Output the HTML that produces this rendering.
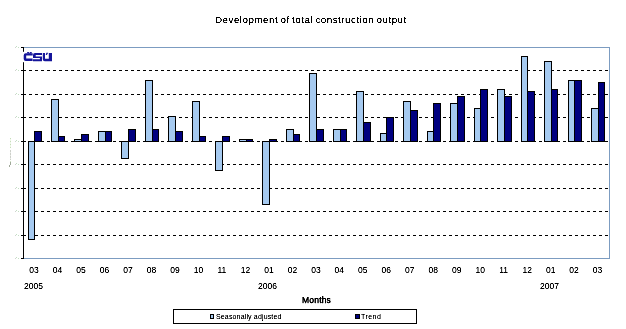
<!DOCTYPE html>
<html><head><meta charset="utf-8"><style>
html,body{margin:0;padding:0;background:#fff;}
body{width:626px;height:329px;position:relative;overflow:hidden;font-family:"Liberation Sans",sans-serif;color:#000;}
#c div{position:absolute;box-sizing:border-box;}
.t{position:absolute;white-space:nowrap;line-height:1;filter:url(#sh2);}
.xl{position:absolute;top:265px;width:20px;text-align:center;font-size:8.5px;line-height:10px;filter:url(#sh2);}
</style></head><body>
<svg width="0" height="0" style="position:absolute"><filter id="sh2" x="-10%" y="-20%" width="120%" height="140%"><feComponentTransfer><feFuncA type="linear" slope="1.5" intercept="-0.1"/></feComponentTransfer></filter><filter id="sh" x="-10%" y="-20%" width="120%" height="140%"><feComponentTransfer><feFuncA type="linear" slope="2" intercept="-0.2"/></feComponentTransfer></filter><filter id="th" x="-10%" y="-20%" width="120%" height="140%"><feComponentTransfer><feFuncA type="discrete" tableValues="0 0 0 1 1 1 1 1 1 1"/></feComponentTransfer></filter><filter id="th2" x="-10%" y="-20%" width="120%" height="140%"><feComponentTransfer><feFuncA type="linear" slope="4" intercept="-1.1"/></feComponentTransfer></filter></svg>
<div class="t" style="left:215px;top:15px;font-size:9.8px;letter-spacing:0.5px;word-spacing:-0.9px;filter:url(#th2)">Development of total construction output</div>
<div id="c">
<div style="left:23px;top:70px;width:586px;height:1px;background:repeating-linear-gradient(to right,#000 0 3px,transparent 3px 6px)"></div><div style="left:23px;top:94px;width:586px;height:1px;background:repeating-linear-gradient(to right,#000 0 3px,transparent 3px 6px)"></div><div style="left:23px;top:117px;width:586px;height:1px;background:repeating-linear-gradient(to right,#000 0 3px,transparent 3px 6px)"></div><div style="left:23px;top:141px;width:586px;height:1px;background:repeating-linear-gradient(to right,#000 0 3px,transparent 3px 6px)"></div><div style="left:23px;top:164px;width:586px;height:1px;background:repeating-linear-gradient(to right,#000 0 3px,transparent 3px 6px)"></div><div style="left:23px;top:188px;width:586px;height:1px;background:repeating-linear-gradient(to right,#000 0 3px,transparent 3px 6px)"></div><div style="left:23px;top:211px;width:586px;height:1px;background:repeating-linear-gradient(to right,#000 0 3px,transparent 3px 6px)"></div><div style="left:23px;top:235px;width:586px;height:1px;background:repeating-linear-gradient(to right,#000 0 3px,transparent 3px 6px)"></div><div style="left:23px;top:47px;width:587px;height:1px;background:#7c9cc1"></div><div style="left:23px;top:258px;width:587px;height:1px;background:#7c9cc1"></div><div style="left:609px;top:47px;width:1px;height:212px;background:#7c9cc1"></div><div style="left:28px;top:141px;width:7px;height:99px;background:#a6caf0;border:1px solid #000"></div><div style="left:34px;top:131px;width:8px;height:11px;background:#000080;border:1px solid #000"></div><div style="left:51px;top:99px;width:8px;height:43px;background:#a6caf0;border:1px solid #000"></div><div style="left:58px;top:136px;width:7px;height:6px;background:#000080;border:1px solid #000"></div><div style="left:74px;top:139px;width:8px;height:3px;background:#a6caf0;border:1px solid #000"></div><div style="left:81px;top:134px;width:8px;height:8px;background:#000080;border:1px solid #000"></div><div style="left:98px;top:131px;width:8px;height:11px;background:#a6caf0;border:1px solid #000"></div><div style="left:105px;top:131px;width:7px;height:11px;background:#000080;border:1px solid #000"></div><div style="left:121px;top:141px;width:8px;height:18px;background:#a6caf0;border:1px solid #000"></div><div style="left:128px;top:129px;width:8px;height:13px;background:#000080;border:1px solid #000"></div><div style="left:145px;top:80px;width:8px;height:62px;background:#a6caf0;border:1px solid #000"></div><div style="left:152px;top:129px;width:7px;height:13px;background:#000080;border:1px solid #000"></div><div style="left:168px;top:116px;width:8px;height:26px;background:#a6caf0;border:1px solid #000"></div><div style="left:175px;top:131px;width:8px;height:11px;background:#000080;border:1px solid #000"></div><div style="left:192px;top:101px;width:8px;height:41px;background:#a6caf0;border:1px solid #000"></div><div style="left:199px;top:136px;width:7px;height:6px;background:#000080;border:1px solid #000"></div><div style="left:215px;top:141px;width:8px;height:30px;background:#a6caf0;border:1px solid #000"></div><div style="left:222px;top:136px;width:8px;height:6px;background:#000080;border:1px solid #000"></div><div style="left:239px;top:139px;width:8px;height:3px;background:#a6caf0;border:1px solid #000"></div><div style="left:246px;top:139px;width:7px;height:3px;background:#000080;border:1px solid #000"></div><div style="left:262px;top:141px;width:8px;height:64px;background:#a6caf0;border:1px solid #000"></div><div style="left:269px;top:139px;width:8px;height:3px;background:#000080;border:1px solid #000"></div><div style="left:286px;top:129px;width:8px;height:13px;background:#a6caf0;border:1px solid #000"></div><div style="left:293px;top:134px;width:7px;height:8px;background:#000080;border:1px solid #000"></div><div style="left:309px;top:73px;width:8px;height:69px;background:#a6caf0;border:1px solid #000"></div><div style="left:316px;top:129px;width:8px;height:13px;background:#000080;border:1px solid #000"></div><div style="left:333px;top:129px;width:8px;height:13px;background:#a6caf0;border:1px solid #000"></div><div style="left:340px;top:129px;width:7px;height:13px;background:#000080;border:1px solid #000"></div><div style="left:356px;top:91px;width:8px;height:51px;background:#a6caf0;border:1px solid #000"></div><div style="left:363px;top:122px;width:8px;height:20px;background:#000080;border:1px solid #000"></div><div style="left:380px;top:133px;width:7px;height:9px;background:#a6caf0;border:1px solid #000"></div><div style="left:386px;top:117px;width:8px;height:25px;background:#000080;border:1px solid #000"></div><div style="left:403px;top:101px;width:8px;height:41px;background:#a6caf0;border:1px solid #000"></div><div style="left:410px;top:110px;width:8px;height:32px;background:#000080;border:1px solid #000"></div><div style="left:427px;top:131px;width:7px;height:11px;background:#a6caf0;border:1px solid #000"></div><div style="left:433px;top:103px;width:8px;height:39px;background:#000080;border:1px solid #000"></div><div style="left:450px;top:103px;width:8px;height:39px;background:#a6caf0;border:1px solid #000"></div><div style="left:457px;top:96px;width:8px;height:46px;background:#000080;border:1px solid #000"></div><div style="left:474px;top:108px;width:7px;height:34px;background:#a6caf0;border:1px solid #000"></div><div style="left:480px;top:89px;width:8px;height:53px;background:#000080;border:1px solid #000"></div><div style="left:497px;top:89px;width:8px;height:53px;background:#a6caf0;border:1px solid #000"></div><div style="left:504px;top:96px;width:8px;height:46px;background:#000080;border:1px solid #000"></div><div style="left:521px;top:56px;width:7px;height:86px;background:#a6caf0;border:1px solid #000"></div><div style="left:527px;top:91px;width:8px;height:51px;background:#000080;border:1px solid #000"></div><div style="left:544px;top:61px;width:8px;height:81px;background:#a6caf0;border:1px solid #000"></div><div style="left:551px;top:89px;width:7px;height:53px;background:#000080;border:1px solid #000"></div><div style="left:568px;top:80px;width:7px;height:62px;background:#a6caf0;border:1px solid #000"></div><div style="left:574px;top:80px;width:8px;height:62px;background:#000080;border:1px solid #000"></div><div style="left:591px;top:108px;width:8px;height:34px;background:#a6caf0;border:1px solid #000"></div><div style="left:598px;top:82px;width:7px;height:60px;background:#000080;border:1px solid #000"></div><div style="left:23px;top:47px;width:1px;height:212px;background:#000"></div><div style="left:21px;top:47px;width:3px;height:1px;background:#000"></div><div style="left:15px;top:47px;width:1px;height:1px;background:#cfd3cf"></div><div style="left:16px;top:46px;width:1px;height:1px;background:#c2e0c2"></div><div style="left:18px;top:47px;width:1px;height:1px;background:#c2e0c2"></div><div style="left:21px;top:70px;width:5px;height:1px;background:#000"></div><div style="left:15px;top:70px;width:1px;height:1px;background:#cfd3cf"></div><div style="left:16px;top:69px;width:1px;height:1px;background:#c2e0c2"></div><div style="left:18px;top:70px;width:1px;height:1px;background:#c2e0c2"></div><div style="left:21px;top:94px;width:5px;height:1px;background:#000"></div><div style="left:15px;top:94px;width:1px;height:1px;background:#cfd3cf"></div><div style="left:16px;top:93px;width:1px;height:1px;background:#c2e0c2"></div><div style="left:18px;top:94px;width:1px;height:1px;background:#c2e0c2"></div><div style="left:21px;top:117px;width:5px;height:1px;background:#000"></div><div style="left:15px;top:117px;width:1px;height:1px;background:#cfd3cf"></div><div style="left:16px;top:116px;width:1px;height:1px;background:#c2e0c2"></div><div style="left:18px;top:117px;width:1px;height:1px;background:#c2e0c2"></div><div style="left:21px;top:141px;width:5px;height:1px;background:#000"></div><div style="left:15px;top:141px;width:1px;height:1px;background:#cfd3cf"></div><div style="left:16px;top:140px;width:1px;height:1px;background:#c2e0c2"></div><div style="left:18px;top:141px;width:1px;height:1px;background:#c2e0c2"></div><div style="left:21px;top:164px;width:5px;height:1px;background:#000"></div><div style="left:15px;top:164px;width:1px;height:1px;background:#cfd3cf"></div><div style="left:16px;top:163px;width:1px;height:1px;background:#c2e0c2"></div><div style="left:18px;top:164px;width:1px;height:1px;background:#c2e0c2"></div><div style="left:21px;top:188px;width:5px;height:1px;background:#000"></div><div style="left:15px;top:188px;width:1px;height:1px;background:#cfd3cf"></div><div style="left:16px;top:187px;width:1px;height:1px;background:#c2e0c2"></div><div style="left:18px;top:188px;width:1px;height:1px;background:#c2e0c2"></div><div style="left:21px;top:211px;width:5px;height:1px;background:#000"></div><div style="left:15px;top:211px;width:1px;height:1px;background:#cfd3cf"></div><div style="left:16px;top:210px;width:1px;height:1px;background:#c2e0c2"></div><div style="left:18px;top:211px;width:1px;height:1px;background:#c2e0c2"></div><div style="left:21px;top:235px;width:5px;height:1px;background:#000"></div><div style="left:15px;top:235px;width:1px;height:1px;background:#cfd3cf"></div><div style="left:16px;top:234px;width:1px;height:1px;background:#c2e0c2"></div><div style="left:18px;top:235px;width:1px;height:1px;background:#c2e0c2"></div><div style="left:21px;top:258px;width:3px;height:1px;background:#000"></div><div style="left:15px;top:258px;width:1px;height:1px;background:#cfd3cf"></div><div style="left:16px;top:257px;width:1px;height:1px;background:#c2e0c2"></div><div style="left:18px;top:258px;width:1px;height:1px;background:#c2e0c2"></div>
</div>
<svg style="position:absolute;left:22px;top:51px" width="32" height="12" viewBox="22 51 32 12">
<rect x="22.6" y="51.8" width="30" height="10.4" fill="#fff"/>
<g fill="#15159a">
<path d="M25.7 53.2H32.7V55.5H26.2V58.6H32.6V61.1H25.7Q23.7 61.1 23.7 59.1V55.2Q23.7 53.2 25.7 53.2Z"/>
<path d="M26.9 52.1H28.7L29.5 52.9L30.2 52.1H32L31.2 53.6H27.7Z"/>
<path d="M35 53H42V55H35.7V56.5H42V61.3H33V59.2H39.9V58H33V55Q33 53 35 53Z"/>
<path d="M42.8 53H45V58.8H48.8V53H52V61.3H44.8Q42.8 61.3 42.8 59.3Z"/>
<path d="M46.4 52.8H48.2L46.9 55H45.7Z"/>
</g>
</svg>
<span class="xl" style="left:24.1px">03</span><span class="xl" style="left:47.6px">04</span><span class="xl" style="left:71.1px">05</span><span class="xl" style="left:94.5px">06</span><span class="xl" style="left:118.0px">07</span><span class="xl" style="left:141.5px">08</span><span class="xl" style="left:165.0px">09</span><span class="xl" style="left:188.5px">10</span><span class="xl" style="left:211.9px">11</span><span class="xl" style="left:235.4px">12</span><span class="xl" style="left:258.9px">01</span><span class="xl" style="left:282.4px">02</span><span class="xl" style="left:305.9px">03</span><span class="xl" style="left:329.3px">04</span><span class="xl" style="left:352.8px">05</span><span class="xl" style="left:376.3px">06</span><span class="xl" style="left:399.8px">07</span><span class="xl" style="left:423.3px">08</span><span class="xl" style="left:446.7px">09</span><span class="xl" style="left:470.2px">10</span><span class="xl" style="left:493.7px">11</span><span class="xl" style="left:517.2px">12</span><span class="xl" style="left:540.7px">01</span><span class="xl" style="left:564.1px">02</span><span class="xl" style="left:587.6px">03</span>
<div class="t" style="left:24px;top:282px;font-size:8.5px">2005</div>
<div class="t" style="left:258px;top:282px;font-size:8.5px">2006</div>
<div class="t" style="left:540px;top:282px;font-size:8.5px">2007</div>
<div class="t" style="left:302px;top:296px;font-size:8.5px;letter-spacing:0.2px;-webkit-text-stroke:0.25px #000">Months</div>
<div style="position:absolute;left:173px;top:309px;width:244px;height:15px;box-sizing:border-box;border:1px solid #000"></div>
<div style="position:absolute;left:210px;top:314px;width:4px;height:5px;box-sizing:border-box;border:1px solid #000;background:#a6caf0"></div>
<div class="t" style="left:216px;top:313px;font-size:7px;letter-spacing:0.15px;filter:url(#sh2)">Seasonally adjusted</div>
<div style="position:absolute;left:355px;top:314px;width:5px;height:5px;box-sizing:border-box;border:1px solid #000;background:#000080"></div>
<div class="t" style="left:361px;top:313px;font-size:7px;letter-spacing:0.45px;filter:url(#sh2)">Trend</div>
<div style="position:absolute;left:10px;top:138px;width:1px;height:10px;background:repeating-linear-gradient(#c6dfb8 0 1px,#eef5ea 1px 3px)"></div>
<div style="position:absolute;left:10px;top:150px;width:1px;height:10px;background:repeating-linear-gradient(#cdd0ca 0 2px,#e8eae6 2px 3px)"></div>
<div style="position:absolute;left:10px;top:161px;width:1px;height:1px;background:#cfe3c2"></div>
<div style="position:absolute;left:10px;top:162px;width:1px;height:3px;background:#a0a89a"></div>
<div style="position:absolute;left:9px;top:165px;width:1px;height:2px;background:#a0a89a"></div>
</body></html>
